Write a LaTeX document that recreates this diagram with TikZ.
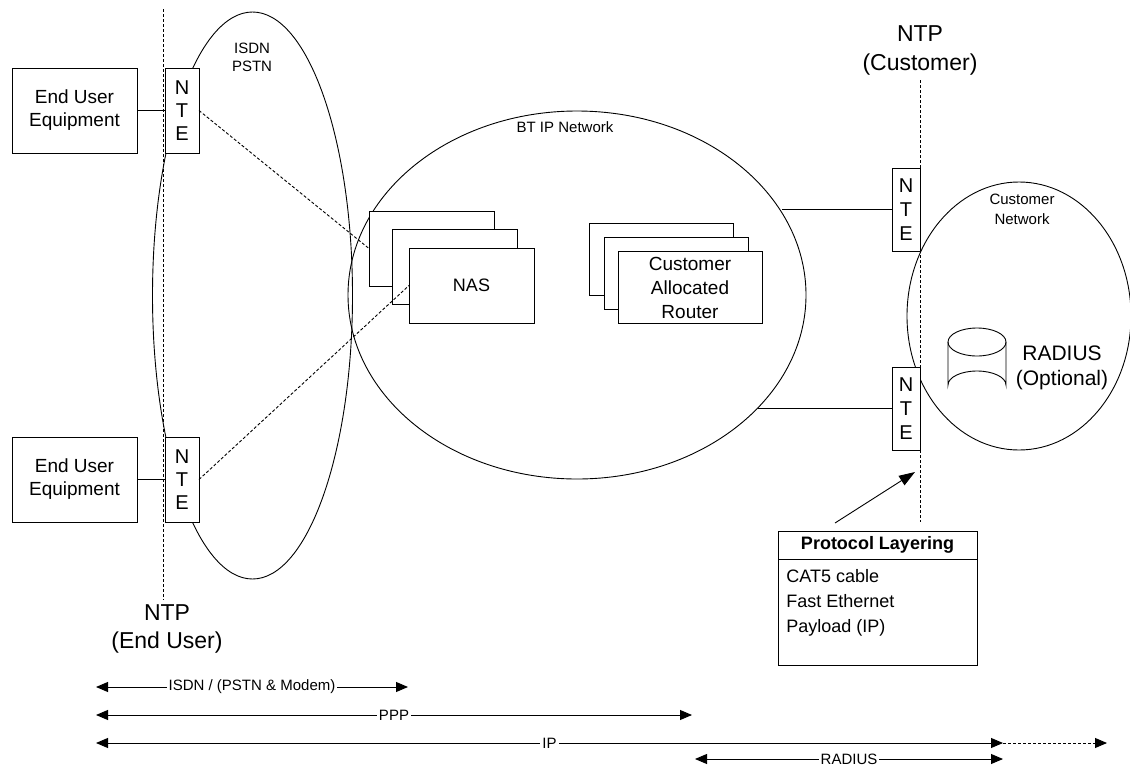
\documentclass[tikz,border=0pt]{standalone}
\usepackage{fontspec}
\setmainfont{Liberation Sans}
\usetikzlibrary{arrows.meta,shapes.geometric}
\begin{document}
\begin{tikzpicture}[x=1pt,y=-1pt,line width=0.9pt,
  >={Triangle[length=12pt,width=10pt]},
  box/.style={draw,fill=white,inner sep=0pt,outer sep=0pt,align=center},
  eue/.style={box,minimum width=125pt,minimum height=85pt,font=\fontsize{19}{23}\selectfont},
  ntel/.style={box,minimum width=34pt,minimum height=85pt,font=\fontsize{20}{23}\selectfont},
  nter/.style={box,minimum width=28pt,minimum height=83pt,font=\fontsize{20}{24}\selectfont},
  nasbox/.style={box,minimum width=125pt,minimum height=75pt,font=\fontsize{18}{22}\selectfont},
  rtbox/.style={box,minimum width=144pt,minimum height=72pt,font=\fontsize{19}{24}\selectfont},
  cloud/.style={ellipse,draw,inner sep=0pt,outer sep=0pt},
  ntpline/.style={dash pattern=on 3pt off 2pt},
  lbl/.style={align=center,inner sep=0pt},
  arrlbl/.style={fill=white,inner xsep=2pt,inner ysep=1pt,font=\fontsize{15}{18}\selectfont},
  dashconn/.style={dash pattern=on 3pt off 2pt}]
\fill[white] (0,0) rectangle (1130,766);
\useasboundingbox (0,0) rectangle (1130,766);

% clouds
\node[cloud,minimum width=200pt,minimum height=567pt] (isdn) at (252.5,295.5) {};
\node[cloud,minimum width=458pt,minimum height=368pt] (bt) at (577,295) {};
\node[cloud,minimum width=224pt,minimum height=268pt] (cust) at (1019,316) {};

\node[lbl,font=\fontsize{15}{18}\selectfont] (isdnlbl) at (252,57.5) {ISDN\\PSTN};
\node[lbl,font=\fontsize{15}{18}\selectfont] (btlbl) at (565,127) {BT IP Network};
\node[lbl,font=\fontsize{15}{20}\selectfont] (custlbl) at (1022,209) {Customer\\Network};

% NTP lines and labels
\coordinate (ntpLtop) at (163,9);
\coordinate (ntpLbot) at (163,600);
\coordinate (ntpRtop) at (920,80);
\coordinate (ntpRbot) at (920,522);
\draw[ntpline] (ntpLtop) -- (ntpLbot);
\draw[ntpline] (ntpRtop) -- (ntpRbot);
\node[lbl,font=\fontsize{23}{28}\selectfont] (ntpL) at (167,629) {NTP\\(End User)};
\node[lbl,font=\fontsize{23}{29}\selectfont] (ntpR) at (920,50) {NTP\\(Customer)};

% end user side
\node[eue] (eue1) at (74.5,110.5) {End User\\Equipment};
\node[ntel] (nte1) at (182,110.5) {N\\T\\E};
\node[eue] (eue2) at (74.5,479.5) {End User\\Equipment};
\node[ntel] (nte2) at (182,479.5) {N\\T\\E};
\draw (eue1.east) -- (nte1.west);
\draw (eue2.east) -- (nte2.west);

% NAS stack
\node[nasbox] (nas1) at (431.5,248.5) {};
\node[nasbox] (nas2) at (454.5,266.5) {};
\node[nasbox] (nas3) at (471.5,285.5) {NAS};

% Router stack
\node[rtbox] (rt1) at (661,259) {};
\node[rtbox] (rt2) at (676,273) {};
\node[rtbox] (rt3) at (690,287.5) {Customer\\Allocated\\Router};

\draw[dashconn] (nte1.east) -- (nas1.west);
\draw[dashconn] (nte2.east) -- (nas3.west);

% customer side NTEs
\node[nter] (nter1) at (906,209.5) {N\\T\\E};
\node[nter] (nter2) at (906,408.5) {N\\T\\E};
\draw (nter1.west) -- (nter1.west -| bt.22.7);
\draw (nter2.west) -- (nter2.west -| bt.-32.4);

% RADIUS cylinder
\draw[fill=white] (948,342) -- (948,385) arc[start angle=180,end angle=360,x radius=29,y radius=14] -- (1006,342);
\draw (977,342) ellipse[x radius=29,y radius=14];
\node[lbl,font=\fontsize{21}{25}\selectfont] (radlbl) at (1062,367.5) {RADIUS\\(Optional)};

% protocol layering box
\node[draw,fill=white,inner sep=0pt,outer sep=0pt,minimum width=199pt,minimum height=134pt] (plbox) at (877.5,598) {};
\coordinate (plsepL) at (778,559);
\coordinate (plsepR) at (977,559);
\draw (plsepL) -- (plsepR);
\node[lbl,font=\bfseries\fontsize{18}{22}\selectfont] (plhead) at (877.5,545) {Protocol Layering};
\node[lbl,anchor=west,align=left,font=\fontsize{18}{25}\selectfont] (plbody) at (786,603) {CAT5 cable\\Fast Ethernet\\Payload (IP)};
\coordinate (plstart) at (835,523);
\coordinate (pltip) at (915,472);
\draw[-{Triangle[length=16pt,width=11pt]}] (plstart) -- (pltip);

% bottom arrows
\coordinate (isdnL) at (96,687);
\coordinate (isdnR) at (408,687);
\coordinate (pppL) at (96,715);
\coordinate (pppR) at (692,715);
\coordinate (ipL) at (96,743);
\coordinate (ipR) at (1003,743);
\coordinate (ipX) at (1107,743);
\coordinate (radL) at (695,759);
\coordinate (radR) at (1003,759);
\draw[<->] (isdnL) -- node[arrlbl] {ISDN / (PSTN \& Modem)} (isdnR);
\draw[<->] (pppL) -- node[arrlbl] {PPP} (pppR);
\draw[<->] (ipL) -- node[arrlbl] {IP} (ipR);
\draw[dashconn,->] (ipR) -- (ipX);
\draw[<->] (radL) -- node[arrlbl] {RADIUS} (radR);
\end{tikzpicture}
\end{document}
